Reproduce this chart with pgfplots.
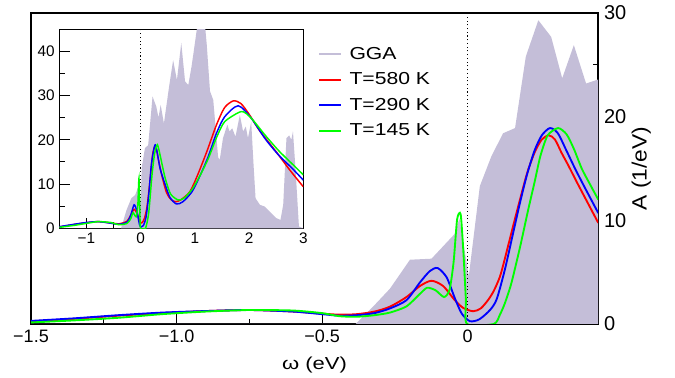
\documentclass[border=0pt]{standalone}
\usepackage{fontspec}
\setmainfont{Liberation Sans}
\newfontfamily\widefont[FakeStretch=1.22]{Liberation Sans}
\newfontfamily\widerfont[FakeStretch=1.27]{Liberation Sans}
\newfontfamily\labelfont[FakeStretch=1.1]{Liberation Sans}
\usepackage{pgfplots}
\pgfplotsset{compat=1.18}
\definecolor{gga}{RGB}{196,190,216}
\definecolor{cred}{RGB}{255,0,0}
\definecolor{cblue}{RGB}{0,0,255}
\definecolor{cgreen}{RGB}{0,255,0}
\begin{document}
\begin{tikzpicture}
\path[use as bounding box] (-23.25pt,-40.5pt) rectangle (483pt,243pt);
\begin{axis}[
  at={(0,0)}, anchor=south west,
  scale only axis, width=425.25pt, height=233.25pt,
  xmin=-1.5, xmax=0.448, ymin=0, ymax=30,
  axis line style={black, line width=0.8pt},
  tick align=inside, xtick pos=left, ytick pos=right, yticklabel pos=right,
  major tick length=8.5pt, minor tick length=3.8pt,
  tick style={black, line width=0.8pt},
  xtick={-1.5,-1,-0.5,0}, xticklabels={−1.5,−1.0,−0.5,0},
  minor xtick={-1.25,-0.75,-0.25,0.25},
  ytick={0,10,20,30}, yticklabels={0,10,20,30},
  minor ytick={5,15,25},
  xticklabel style={font=\fontsize{13.5}{15}\selectfont, yshift=-1pt},
  yticklabel style={font=\fontsize{15}{17}\selectfont, xshift=1pt},
  xlabel={\widerfont\fontsize{13}{15}\selectfont ω (eV)},
  xlabel style={at={([yshift=-30.5pt]rel axis cs:0.5,0)}, anchor=center},
  ylabel={\labelfont\fontsize{15.5}{17}\selectfont A (1/eV)},
  ylabel style={at={([xshift=32.5pt]rel axis cs:1,0.5)}, anchor=center},
  legend style={at={(rel axis cs:0.506,0.90)}, anchor=north west, draw=none, fill=none,
     font=\widefont\fontsize{13}{15}\selectfont, row sep=4.6pt, inner sep=0pt,
     nodes={inner sep=2pt}},
  legend cell align=left,
  legend image code/.code={\draw[#1] (0pt,0pt) -- (16.5pt,0pt); \path (20pt,0pt);},
]
\addplot[fill=gga, draw=none, forget plot] table {
-1.5 0
-0.385 0
-0.324 1.7
-0.267 3.4
-0.198 6.2
-0.124 6.3
-0.044 8.7
-0.028 10.2
0.004 4.6
0.042 13.3
0.082 16.2
0.122 18.4
0.163 18.9
0.200 25.8
0.243 29.3
0.287 27.7
0.325 23.7
0.365 26.9
0.407 23.2
0.45 23.6
} \closedcycle;
\addplot[black, dotted, line width=0.8pt, forget plot] coordinates {(0,0) (0,30)};
\addlegendimage{draw=gga, line width=1.5pt}
\addlegendentry{GGA}
\addplot[draw=cred, line width=1.4pt, smooth, tension=0.45] table {
-1.5 0.25
-1.35 0.5
-1.2 0.8
-1.05 1.05
-0.9 1.25
-0.75 1.35
-0.6 1.2
-0.5 1.0
-0.44 0.9
-0.38 0.95
-0.32 1.2
-0.267 1.67
-0.21 2.6
-0.164 3.66
-0.124 4.17
-0.084 3.66
-0.044 2.3
-0.015 1.55
0.019 1.23
0.045 1.5
0.07 2.3
0.09 3.2
0.111 4.56
0.128 6.3
0.155 9.3
0.18 12.0
0.205 14.6
0.231 16.6
0.255 17.8
0.279 18.2
0.30 17.8
0.323 16.5
0.346 15.3
0.375 13.7
0.403 12.2
0.449 9.75
};
\addlegendentry{T=580 K}
\addplot[draw=cblue, line width=1.4pt, smooth, tension=0.45] table {
-1.5 0.3
-1.35 0.55
-1.2 0.85
-1.05 1.1
-0.9 1.25
-0.75 1.35
-0.6 1.2
-0.5 0.95
-0.44 0.8
-0.38 0.85
-0.32 1.05
-0.267 1.5
-0.21 2.3
-0.164 4.0
-0.13 5.1
-0.103 5.4
-0.072 4.5
-0.044 2.5
-0.02 1.0
0.008 0.27
0.04 0.45
0.077 1.35
0.1 2.4
0.128 5.25
0.155 8.6
0.18 11.7
0.205 14.5
0.231 16.8
0.255 18.2
0.283 18.9
0.31 18.4
0.34 16.7
0.369 15.0
0.40 13.3
0.449 10.7
};
\addlegendentry{T=290 K}
\addplot[draw=cgreen, line width=1.4pt, smooth, tension=0.4] table {
-1.5 0.15
-1.35 0.35
-1.2 0.6
-1.05 0.95
-0.9 1.2
-0.75 1.35
-0.6 1.3
-0.5 1.05
-0.44 0.75
-0.38 0.7
-0.32 0.85
-0.267 1.1
-0.21 1.7
-0.164 2.9
-0.139 3.5
-0.11 3.25
-0.081 2.6
-0.062 3.3
-0.048 6.0
-0.036 10.1
-0.024 10.6
-0.015 7.2
-0.006 2.4
-0.002 0.0
0.09 0.0
0.111 0.9
0.128 2.0
0.15 3.9
0.18 7.4
0.208 11.0
0.231 13.8
0.25 16.2
0.275 18.2
0.311 18.9
0.34 18.3
0.365 16.9
0.392 15.0
0.42 13.5
0.449 12.0
};
\addlegendentry{T=145 K}
\end{axis}
\begin{axis}[
  at={(21.2pt,71.8pt)}, anchor=south west,
  scale only axis, width=183pt, height=149.25pt,
  xmin=-1.5, xmax=3, ymin=0, ymax=45,
  axis background/.style={fill=white},
  axis line style={black, line width=0.8pt},
  tick align=inside, xtick pos=left, ytick pos=left,
  major tick length=8pt, minor tick length=4.5pt,
  tick style={black, line width=0.8pt},
  xtick={-1,0,1,2,3}, xticklabels={−1,0,1,2,3},
  minor xtick={-0.5,0.5,1.5,2.5},
  ytick={0,10,20,30,40}, yticklabels={0,10,20,30,40},
  minor ytick={5,15,25,35},
  xticklabel style={font=\fontsize{11.5}{13}\selectfont},
  yticklabel style={font=\fontsize{11.5}{13}\selectfont},
]
\addplot[fill=gga, draw=none] table {
-1.5 0
-0.36 0
-0.26 4.1
-0.17 6.8
-0.1 7.5
-0.04 9.5
0.0 5
0.02 13.6
0.08 18.1
0.14 18.8
0.22 29.8
0.29 27.5
0.33 25
0.37 27.9
0.43 23.7
0.53 32.4
0.6 38
0.67 33.5
0.75 41.9
0.82 33.2
0.88 32.4
0.94 36.6
0.98 40
1.06 47
1.18 47
1.22 41.5
1.28 31
1.34 29
1.43 16
1.46 15.5
1.52 20.4
1.6 23.4
1.64 21.9
1.69 22.6
1.75 20.7
1.83 25.6
1.89 21.9
1.94 23
1.98 20.4
2.04 24.1
2.08 15
2.12 6.8
2.2 5.3
2.29 4.9
2.38 3.8
2.5 2.3
2.58 1.9
2.63 5.3
2.69 20.4
2.74 21
2.78 20
2.81 21.9
2.86 12.8
2.92 0.4
3.0 0
} \closedcycle;
\addplot[black, dotted, line width=0.8pt] coordinates {(0,0) (0,45)};
\addplot[cred, line width=1.1pt, smooth, tension=0.45] table {
-1.5 0.3
-1.2 0.9
-1.0 1.25
-0.78 1.5
-0.55 1.2
-0.4 1.0
-0.25 1.6
-0.18 3.0
-0.12 4.3
-0.06 3.2
-0.02 1.6
0.02 1.2
0.07 2.2
0.12 5.0
0.18 11.5
0.22 16.5
0.26 18.5
0.29 18.0
0.33 15.5
0.4 11.5
0.48 8.0
0.56 6.5
0.65 6.0
0.75 6.5
0.91 8.3
1.05 12
1.22 17.3
1.4 23.4
1.55 27.3
1.71 28.8
1.85 28.2
2.0 25.8
2.2 22.0
2.5 17.3
2.75 13.2
3.0 9.4
};
\addplot[cblue, line width=1.1pt, smooth, tension=0.45] table {
-1.5 0.35
-1.2 0.95
-1.0 1.3
-0.78 1.5
-0.55 1.15
-0.4 0.9
-0.25 1.4
-0.18 3.0
-0.12 5.3
-0.07 4.0
-0.02 0.8
0.01 0.3
0.05 0.6
0.1 2.5
0.15 7.5
0.2 14.5
0.263 18.8
0.3 17.5
0.36 13.5
0.45 10.0
0.54 7.0
0.66 5.5
0.78 6.0
0.95 8.3
1.1 12.0
1.25 16.3
1.4 21.5
1.55 25.2
1.8 27.7
2.04 24.9
2.3 20.2
2.55 16.5
2.8 13.5
3.0 10.9
};
\addplot[cgreen, line width=1.1pt, smooth, tension=0.4] table {
-1.5 0.2
-1.2 0.7
-1.0 1.1
-0.78 1.5
-0.55 1.3
-0.4 0.8
-0.25 1.1
-0.18 2.2
-0.14 3.5
-0.08 2.6
-0.05 5.5
-0.03 11.3
-0.012 3
-0.002 0
0.09 0
0.15 3.5
0.21 12.0
0.26 17.0
0.31 18.9
0.36 16.5
0.45 11.5
0.55 7.8
0.69 6.4
0.8 6.8
0.95 8.8
1.1 12.0
1.25 15.8
1.4 20.5
1.55 24.1
1.86 26.4
2.04 24.9
2.3 21.0
2.55 17.5
2.8 14.5
3.0 12.1
};
\end{axis}
\end{tikzpicture}
\end{document}
